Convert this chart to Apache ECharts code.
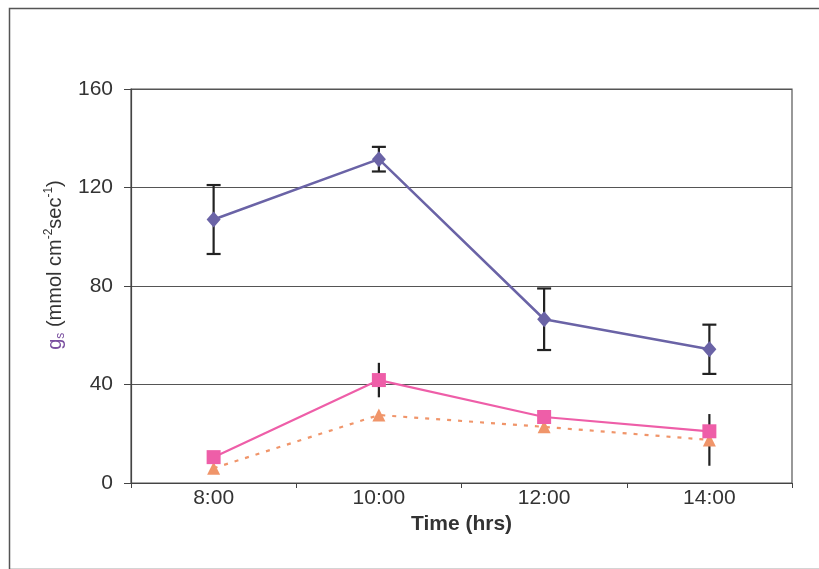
<!DOCTYPE html>
<html>
<head>
<meta charset="utf-8">
<script src="https://cdn.jsdelivr.net/npm/echarts@6/dist/echarts.min.js"></script>
<style>html,body{margin:0;padding:0;background:#fff}#c{width:819px;height:569px}</style>
</head>
<body>
<div id="c"></div>
<script>
var categories = ['8:00', '10:00', '12:00', '14:00'];
var yTicks = [0, 40, 80, 120, 160];
var diamondValues = [107, 131.5, 66.5, 54.3];
var diamondErrors = [14, 5, 12.5, 10];
var squareValues = [10.5, 41.8, 26.8, 21];
var squareErrors = [0, 7, 0, 0];
var triangleValues = [6, 27.6, 22.8, 17.5];
var triangleErrors = [0, 0, 0, 10.5];

var purple = '#6A63A6';
var pink = '#EE5EA8';
var orange = '#F0956A';
var FONT = '"Liberation Sans", Arial, sans-serif';

function errData(vals, errs) {
  var out = [];
  for (var i = 0; i < vals.length; i++) {
    if (errs[i] > 0) out.push([i, vals[i] - errs[i], vals[i] + errs[i]]);
  }
  return out;
}
function errSeries(vals, errs, cap) {
  return {
    type: 'custom',
    z: 1,
    silent: true,
    data: errData(vals, errs),
    encode: { x: 0, y: [1, 2] },
    renderItem: function (params, api) {
      var lo = api.coord([api.value(0), api.value(1)]);
      var hi = api.coord([api.value(0), api.value(2)]);
      var st = { stroke: '#222', lineWidth: 2.2 };
      var ch = [{ type: 'line', shape: { x1: lo[0], y1: lo[1], x2: hi[0], y2: hi[1] }, style: st }];
      if (cap > 0) {
        ch.push({ type: 'line', shape: { x1: lo[0] - cap, y1: lo[1], x2: lo[0] + cap, y2: lo[1] }, style: st });
        ch.push({ type: 'line', shape: { x1: hi[0] - cap, y1: hi[1], x2: hi[0] + cap, y2: hi[1] }, style: st });
      }
      return { type: 'group', children: ch };
    }
  };
}

var chart = echarts.init(document.getElementById('c'), null, { renderer: 'canvas' });
chart.setOption({
  animation: false,
  backgroundColor: '#fff',
  textStyle: { fontFamily: FONT },
  graphic: [{
    type: 'rect', left: 7, top: 6,
    shape: { width: 840, height: 561 },
    style: { fill: 'none', stroke: '#555', lineWidth: 1.5 },
    silent: true
  }],
  grid: { left: 131, right: 27, top: 89, bottom: 86, show: true, borderColor: '#555', borderWidth: 1.2, backgroundColor: 'transparent' },
  xAxis: {
    type: 'category',
    data: categories,
    boundaryGap: true,
    name: 'Time (hrs)',
    nameLocation: 'middle',
    nameGap: 27,
    nameTextStyle: { fontFamily: FONT, fontSize: 21, fontWeight: 'bold', color: '#333' },
    axisLine: { lineStyle: { color: '#444', width: 1.2 } },
    axisTick: { show: true, length: 5, alignWithLabel: false, lineStyle: { color: '#444' } },
    axisLabel: { fontFamily: FONT, fontSize: 21, color: '#333', margin: 5 }
  },
  yAxis: {
    type: 'value',
    min: yTicks[0], max: yTicks[yTicks.length - 1], interval: 40,
    name: '{g|g}{s|s}{t| (mmol cm}{sup|-2}{t|sec}{sup|-1}{t|)}',
    nameLocation: 'middle',
    nameGap: 62,
    nameRotate: 90,
    nameTextStyle: {
      padding: [0, 0, 0, 42],
      rich: {
        g: { fontFamily: FONT, fontSize: 20, color: '#7A4FA0', lineHeight: 24, verticalAlign: 'middle' },
        s: { fontFamily: FONT, fontSize: 12, color: '#7A4FA0', lineHeight: 24, verticalAlign: 'bottom' },
        t: { fontFamily: FONT, fontSize: 20, color: '#333', lineHeight: 24, verticalAlign: 'middle' },
        sup: { fontFamily: FONT, fontSize: 12, color: '#333', lineHeight: 24, verticalAlign: 'top' }
      }
    },
    axisLine: { show: true, lineStyle: { color: '#444', width: 1.2 } },
    axisTick: { show: true, length: 7, lineStyle: { color: '#444' } },
    axisLabel: { fontFamily: FONT, fontSize: 21, color: '#333', margin: 18 },
    splitLine: { show: true, lineStyle: { color: '#555', width: 1.2 } }
  },
  series: [
    errSeries(diamondValues, diamondErrors, 7),
    errSeries(squareValues, squareErrors, 0),
    errSeries(triangleValues, triangleErrors, 0),
    {
      type: 'line', z: 3, data: triangleValues,
      symbol: 'triangle', symbolSize: 13,
      itemStyle: { color: orange },
      lineStyle: { color: orange, width: 2.2, type: [4, 7] }
    },
    {
      type: 'line', z: 4, data: squareValues,
      symbol: 'rect', symbolSize: 14,
      itemStyle: { color: pink },
      lineStyle: { color: pink, width: 2.2 }
    },
    {
      type: 'line', z: 5, data: diamondValues,
      symbol: 'diamond', symbolSize: [14, 16],
      itemStyle: { color: purple },
      lineStyle: { color: purple, width: 2.5 }
    }
  ]
});
</script>
</body>
</html>
